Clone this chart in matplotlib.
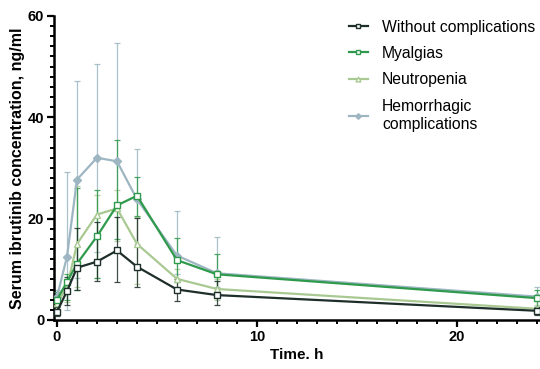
import matplotlib
matplotlib.use("Agg")
import matplotlib.pyplot as plt
from matplotlib.ticker import MultipleLocator
import numpy as np

plt.rcParams['font.family'] = ['Liberation Sans', 'DejaVu Sans']

time = [0, 0.5, 1, 2, 3, 4, 6, 8, 24]

without = [1.6, 5.7, 10.3, 11.5, 13.7, 10.5, 6.0, 4.9, 1.8]
without_lo = [0.8, 3.0, 5.9, 7.7, 7.4, 6.4, 3.8, 3.0, 1.0]
without_hi = [2.5, 8.5, 18.2, 19.3, 20.3, 20.2, 8.0, 7.6, 2.6]

myalgias = [4.0, 7.5, 11.1, 16.5, 22.6, 24.5, 11.8, 9.0, 4.3]
myalgias_lo = [2.8, 4.0, 6.0, 8.3, 16.0, 20.5, 7.5, 5.0, 2.5]
myalgias_hi = [5.5, 9.0, 26.0, 25.7, 35.6, 28.2, 16.1, 13.1, 6.0]

neutropenia = [3.3, 6.5, 15.0, 20.8, 22.0, 15.0, 8.1, 6.1, 2.2]
neutropenia_lo = [2.5, 3.5, 6.5, 8.3, 15.5, 7.0, 5.5, 4.0, 1.5]
neutropenia_hi = [4.0, 8.0, 26.5, 24.7, 25.7, 20.3, 10.1, 8.0, 3.0]

hemorrhagic = [4.5, 12.5, 27.7, 32.0, 31.3, 23.8, 12.7, 9.2, 4.6]
hemorrhagic_lo = [3.0, 2.0, 8.2, 13.5, 21.6, 14.9, 9.1, 6.5, 2.5]
hemorrhagic_hi = [6.0, 29.2, 47.1, 50.5, 54.6, 33.8, 21.4, 16.3, 6.5]

labels = ["Without complications", "Myalgias", "Neutropenia",
          "Hemorrhagic\ncomplications"]

series = [
    (without, without_lo, without_hi, '#1e2e2a', 's', 'white'),
    (myalgias, myalgias_lo, myalgias_hi, '#2f9a4c', 's', 'white'),
    (neutropenia, neutropenia_lo, neutropenia_hi, '#a9c992', '^', 'white'),
    (hemorrhagic, hemorrhagic_lo, hemorrhagic_hi, '#9db6c2', 'D', None),
]

fig = plt.figure(figsize=(5.4, 3.69), dpi=100)
ax = fig.add_axes([0.1, 0.133, 0.898, 0.824])

order = [3, 2, 1, 0]
handles = [None] * 4
for i in order:
    y, lo, hi, c, m, fc = series[i]
    y = np.array(y); lo = np.array(lo); hi = np.array(hi)
    yerr = np.vstack([y - lo, hi - y])
    ax.errorbar(time, y, yerr=yerr, fmt='none', ecolor=c, elinewidth=0.9,
                capsize=2.5, capthick=0.9, alpha=0.85, zorder=2 + (3 - i))
    h, = ax.plot(time, y, color=c, lw=1.6, marker=m,
                 markersize=5 if m != 'D' else 4,
                 markerfacecolor=(fc if fc else c), markeredgecolor=c,
                 markeredgewidth=1.0, zorder=6 + (3 - i), label=labels[i])
    handles[i] = h

ax.set_xlim(-0.15, 24.1)
ax.set_ylim(0, 60)
ax.set_xticks([0, 10, 20])
ax.set_yticks([0, 20, 40, 60])
ax.xaxis.set_minor_locator(MultipleLocator(1))
ax.yaxis.set_minor_locator(MultipleLocator(2))

for s in ['top', 'right']:
    ax.spines[s].set_visible(False)
for s in ['left', 'bottom']:
    ax.spines[s].set_linewidth(1.8)
ax.tick_params(which='major', length=5, width=1.6, labelsize=10.5, pad=2)
ax.tick_params(which='minor', length=3, width=1.4)
for t in ax.get_xticklabels() + ax.get_yticklabels():
    t.set_fontweight('bold')

ax.set_xlabel("Time. h", fontsize=11, fontweight='bold', labelpad=3)
ax.set_ylabel("Serum ibrutinib concentration, ng/ml", fontsize=11.5,
              fontweight='bold', labelpad=2)

leg = fig.legend(handles=handles, labels=labels, loc='upper left',
                 bbox_to_anchor=(0.62, 0.985), frameon=False, fontsize=11.3,
                 handlelength=1.2, handletextpad=0.9, labelspacing=0.72,
                 markerscale=0.7)
for t in leg.get_texts():
    t.set_linespacing(1.25)

fig.savefig("out.png", dpi=100)
